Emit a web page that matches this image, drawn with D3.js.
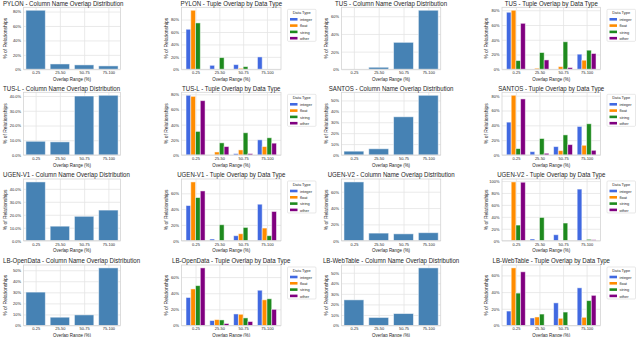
<!DOCTYPE html>
<html><head><meta charset="utf-8">
<script src="https://cdn.jsdelivr.net/npm/d3@7"></script>
<style>
body{margin:0;background:#fff}
svg{display:block}
text{font-family:"Liberation Sans",Arial,sans-serif;fill:#262626}
</style>
</head><body><svg id="c" width="640" height="337"></svg>
<script>
const categories = ["0-25","25-50","50-75","75-100"];
const dataTypes = ["integer","float","string","other"];
const datasets = ["PYLON","TUS","TUS-L","SANTOS","UGEN-V1","UGEN-V2","LB-OpenData","LB-WebTable"];

// Column name overlap distribution (% of relationships)
const pylonColumn      = [81.8, 7.4, 6.1, 4.7];
const tusColumn        = [0, 2.3, 30.5, 66.8];
const tuslColumn       = [9.3, 8.9, 40.0, 40.5];
const santosColumn     = [3.5, 5.7, 35.0, 54.7];
const ugenV1Column     = [45.3, 11.2, 18.8, 23.6];
const ugenV2Column     = [72.0, 9.3, 8.4, 9.8];
const lbOpenDataColumn = [30.2, 7.5, 9.6, 52.1];
const lbWebTableColumn = [24.3, 7.6, 11.3, 54.6];

// Tuple overlap by data type: integer, float, string, other
const pylonTuple      = [[64.4,6.4,7.5,19.9],[95.0,0,1.6,0],[74.6,18.8,4.3,0],[0,0,0,0]];
const tusTuple        = [[77.3,0,0,20.5],[80.0,1.4,3.6,12.3],[11.8,22.7,37.3,25.9],[62.3,12.7,2.3,21.4]];
const tuslTuple       = [[78.7,0,1.8,20.0],[77.3,4.0,6.7,11.1],[31.1,16.0,29.3,22.7],[71.6,11.1,1.8,15.6]];
const santosTuple     = [[44.3,4.5,11.3,38.5],[80.5,0,5.9,13.1],[8.6,22.2,27.1,42.1],[75.6,2.3,14.0,6.3]];
const ugenV1Tuple     = [[44.5,2.1,6.3,46.2],[74.4,0,8.8,16.0],[54.6,20.2,16.8,6.3],[63.0,0,0,37.0]];
const ugenV2Tuple     = [[0,2.8,10.0,86.5],[98.5,0,0,0],[26.2,39.0,29.6,2.3],[98.0,0,0,1.6]];
const lbOpenDataTuple = [[34.7,6.1,14.3,43.7],[45.3,7.3,13.9,31.8],[49.4,6.9,9.4,33.1],[71.4,2.4,4.9,20.0]];
const lbWebTableTuple = [[17.3,9.0,27.1,45.1],[69.0,10.2,8.6,9.8],[38.8,13.7,16.1,29.8],[64.3,0,0,36.1]];

const columnSeries = [pylonColumn,tusColumn,tuslColumn,santosColumn,ugenV1Column,ugenV2Column,lbOpenDataColumn,lbWebTableColumn];
const tupleSeries  = [pylonTuple,tusTuple,tuslTuple,santosTuple,ugenV1Tuple,ugenV2Tuple,lbOpenDataTuple,lbWebTableTuple];

// y tick labels (values in %) and decimals per panel
const columnTicks = [[0,20,40,60,80],[0,20,40,60],[0,10,20,30,40],[0,10,20,30,40,50],[0,10,20,30,40],[0,20,40,60],[0,10,20,30,40,50],[0,10,20,30,40,50]];
const columnDecimals = [0,0,1,0,1,0,0,0];
const tupleTicks = [[0,20,40,60,80],[0,20,40,60,80],[0,20,40,60,80],[0,20,40,60,80],[0,20,40,60],[0,20,40,60,80,100],[0,20,40,60],[0,20,40,60]];

// ---- styles / layout ----
const barColor = "#4682b4";
const typeColors = ["#4169e1","#ff8c00","#1e8a1e","#800080"];
const colLeft  = [23.5, 181.5, 341.5, 502];
const colRight = [120.5, 281, 440.7, 600.5];
const rowTop    = [7.3, 92.3, 179, 265];
const rowBottom = [69.3, 155, 240.7, 325.5];
const yLabelX = [5, 166.5, 325.7, 486.5];
const SX = 0.9; // horizontal squeeze of text seen in the reference
const FS_TITLE = 6.8, FS_TICK = 4.4, FS_AXIS = 4.95, FS_LEG = 4.4;

const svg = d3.select("#c");
function sq(sel, x, y, extra) {
  return sel.attr("transform", `translate(${x},${y}) scale(${SX},1)` + (extra||""));
}

function drawPanel(r, c, title, series, colors, ticks, decimals, grouped) {
  const L = colLeft[c], R = colRight[c], T = rowTop[r], B = rowBottom[r];
  const g = svg.append("g");
  const maxV = d3.max(series.flat());
  const y = d3.scaleLinear().domain([0, maxV*1.05]).range([B, T]);
  const x = grouped ? d3.scaleLinear().domain([-0.59, 3.59]).range([L, R])
                    : d3.scaleLinear().domain([-0.5, 3.5]).range([L, R]);
  // grid
  g.append("g").attr("transform",`translate(${L},0)`)
    .call(d3.axisLeft(y).tickValues(ticks).tickSize(-(R-L)).tickFormat(""))
    .call(a=>{a.select(".domain").remove();a.selectAll("line").attr("stroke","#e4e4e4").attr("stroke-width",0.8);});
  g.append("g").attr("transform",`translate(0,${T})`)
    .call(d3.axisBottom(x).tickValues(d3.range(categories.length)).tickSize(B-T).tickFormat(""))
    .call(a=>{a.select(".domain").remove();a.selectAll("line").attr("stroke","#e4e4e4").attr("stroke-width",0.8);});
  // bars
  if (!grouped) {
    const w = 0.8;
    g.selectAll("rect.bar").data(series[0]).join("rect")
      .attr("x",(d,i)=>x(i-w/2)).attr("width",(d,i)=>x(i+w/2)-x(i-w/2))
      .attr("y",d=>y(d)).attr("height",d=>y(0)-y(d))
      .attr("fill",colors[0]).attr("stroke","#ffffff").attr("stroke-opacity",0.55).attr("stroke-width",0.9)
      .attr("display",d=>d>0?null:"none");
  } else {
    const w = 0.2;
    series.forEach((vals,j)=>{
      g.selectAll("rect.s"+j).data(vals).join("rect")
        .attr("x",(d,i)=>x(i+(j-1.5)*w-w/2)).attr("width",(d,i)=>x(i+(j-1.5)*w+w/2)-x(i+(j-1.5)*w-w/2))
        .attr("y",d=>y(d)).attr("height",d=>y(0)-y(d))
        .attr("fill",colors[j]).attr("stroke","#ffffff").attr("stroke-opacity",0.55).attr("stroke-width",0.9)
        .attr("display",d=>d>0?null:"none");
    });
  }
  // frame
  g.append("rect").attr("x",L).attr("y",T).attr("width",R-L).attr("height",B-T)
    .attr("fill","none").attr("stroke","#d4d4d4").attr("stroke-width",0.8);
  // y tick labels
  g.append("g").attr("transform",`translate(${L},0)`)
    .call(d3.axisLeft(y).tickValues(ticks).tickSize(0).tickPadding(2.6/SX).tickFormat(d=>d.toFixed(decimals)+"%"))
    .call(a=>{a.select(".domain").remove();a.selectAll("text").attr("font-size",FS_TICK).attr("font-family",null).attr("fill","#262626").attr("transform",`scale(${SX},1)`);});
  // x tick labels
  g.append("g").attr("transform",`translate(0,${B})`)
    .call(d3.axisBottom(x).tickValues(d3.range(categories.length)).tickSize(0).tickPadding(1.7).tickFormat(i=>categories[i]))
    .call(a=>{a.select(".domain").remove();a.selectAll("text").attr("font-size",FS_TICK).attr("font-family",null).attr("fill","#262626").attr("transform",`scale(${SX},1)`);});
  // axis labels
  sq(g.append("text"),(L+R)/2,B+11.6).attr("text-anchor","middle").attr("font-size",FS_AXIS).text("Overlap Range (%)");
  sq(g.append("text"),yLabelX[c]+1.8,(T+B)/2," rotate(-90)").attr("text-anchor","middle").attr("font-size",FS_AXIS).text("% of Relationships");
  // title
  const t = g.append("text").attr("font-size",FS_TITLE).text(title);
  if (c===0) sq(t,3,T-1.8).attr("text-anchor","start");
  else sq(t,(L+R)/2,T-1.8).attr("text-anchor","middle");
  // legend
  if (grouped) {
    const lx = R+6.5, ly = T+2;
    const lg = g.append("g").attr("transform",`translate(${lx},${ly})`);
    lg.append("rect").attr("width",28.5).attr("height",32).attr("rx",1).attr("fill","#fff").attr("stroke","#d9d9d9").attr("stroke-width",0.6);
    sq(lg.append("text"),14.2,5).attr("text-anchor","middle").attr("font-size",FS_LEG).text("Data Type");
    dataTypes.forEach((dt,k)=>{
      const cy = 10 + k*6.3;
      lg.append("rect").attr("x",2.5).attr("y",cy-1.3).attr("width",7.5).attr("height",2.6).attr("fill",colors[k]);
      sq(lg.append("text"),12.5,cy+1.6).attr("font-size",FS_LEG).text(dt);
    });
  }
}

datasets.forEach((ds,k)=>{
  const r = Math.floor(k/2), half = k%2;
  drawPanel(r, half*2, ds+" - Column Name Overlap Distribution", [columnSeries[k]], [barColor], columnTicks[k], columnDecimals[k], false);
  drawPanel(r, half*2+1, ds+" - Tuple Overlap by Data Type", tupleSeries[k], typeColors, tupleTicks[k], 0, true);
});
</script>
</body></html>
